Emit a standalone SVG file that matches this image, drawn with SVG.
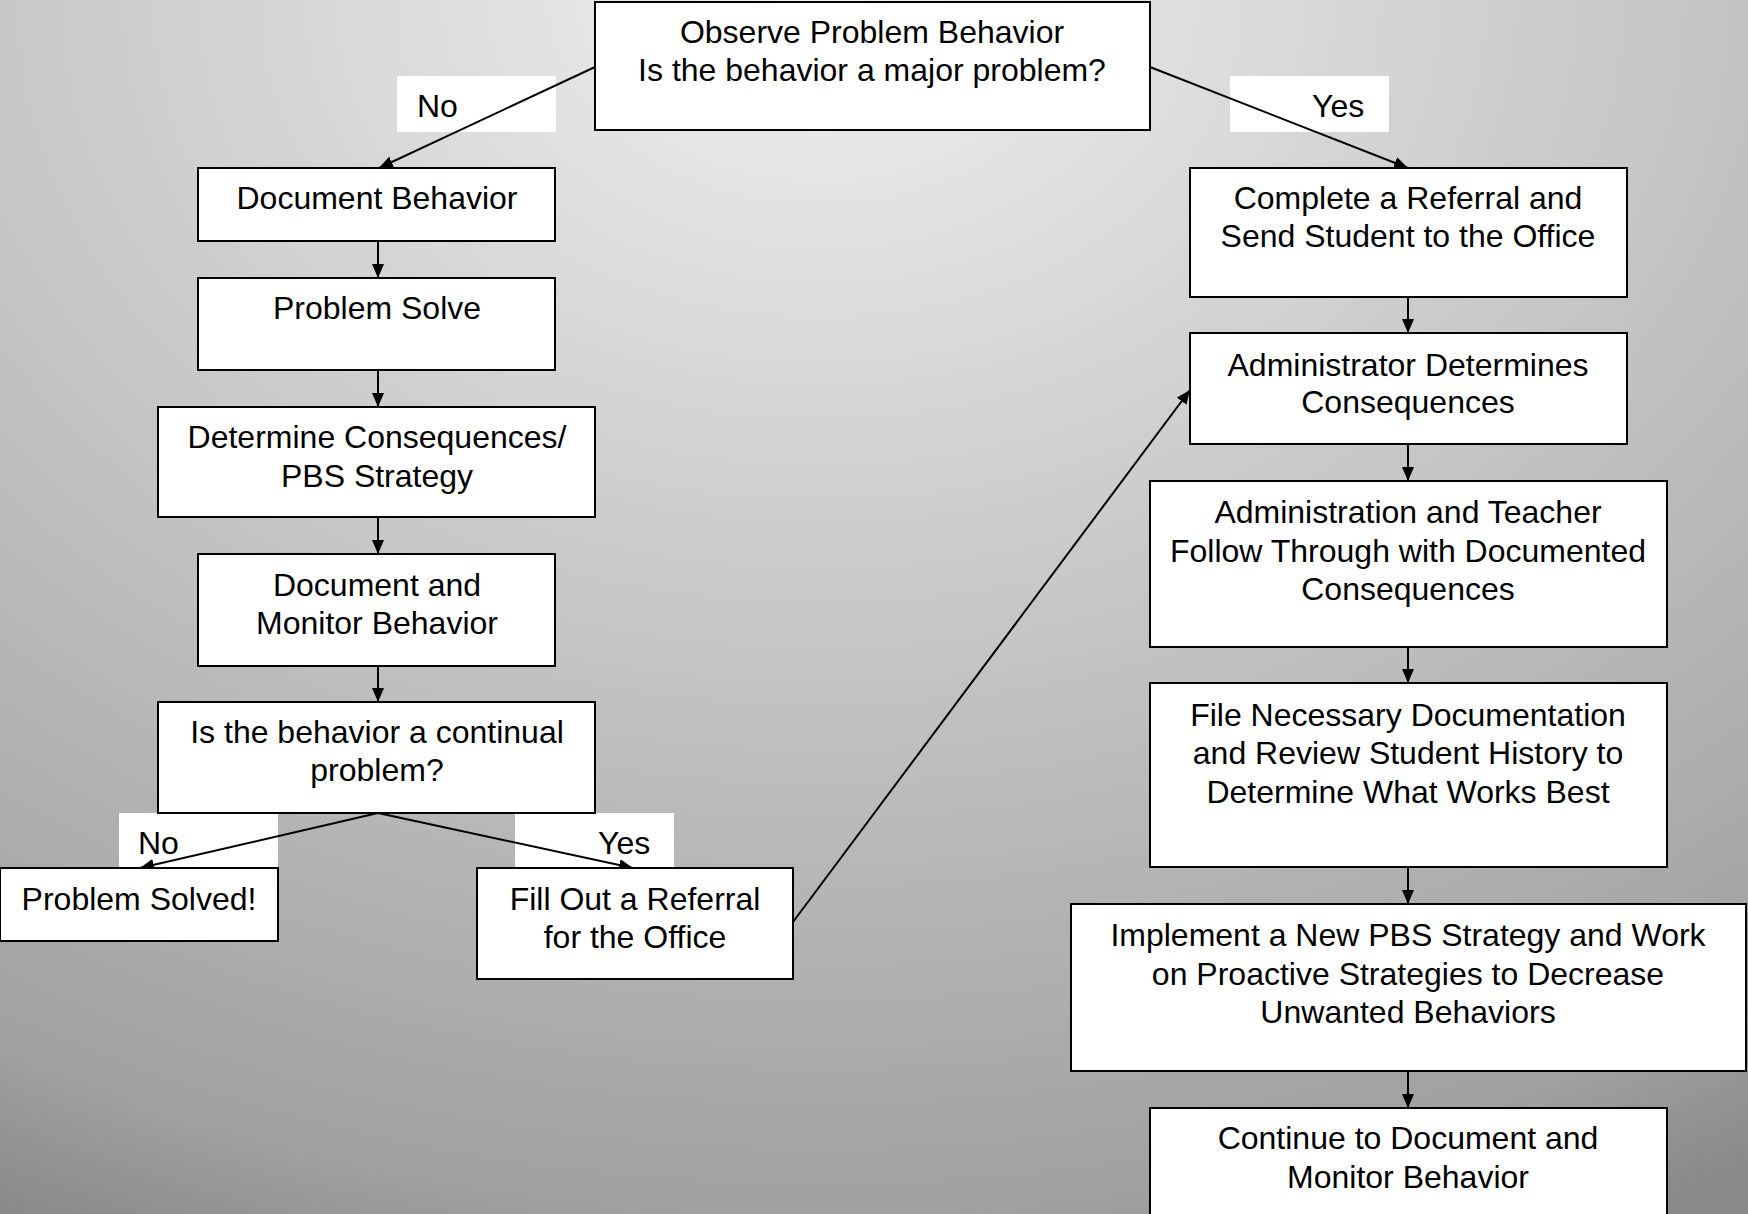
<svg xmlns="http://www.w3.org/2000/svg" width="1748" height="1214" viewBox="0 0 1748 1214">
  <defs>
    <radialGradient id="bg" gradientUnits="userSpaceOnUse" cx="820" cy="0" r="1800" gradientTransform="translate(820 0) scale(1 0.75) translate(-820 0)">
      <stop offset="0" stop-color="#f0f0f0"/>
      <stop offset="0.45" stop-color="#c8c8c8"/>
      <stop offset="0.9" stop-color="#a0a0a0"/>
      <stop offset="1" stop-color="#8a8a8a"/>
    </radialGradient>
    <marker id="arrow" markerUnits="userSpaceOnUse" markerWidth="14" markerHeight="12" refX="14" refY="6" orient="auto">
      <path d="M0,0 L14,6 L0,12 z" fill="#000"/>
    </marker>
  </defs>
  <style>
    .box { fill: #ffffff; stroke: #000000; stroke-width: 2; }
    .lbl { fill: #ffffff; stroke: none; }
    .t { font-family: "Liberation Sans", Arial, sans-serif; font-size: 32px; fill: #000000; text-anchor: middle; }
    .tl { font-family: "Liberation Sans", Arial, sans-serif; font-size: 32px; fill: #000000; text-anchor: start; }
    .edge { stroke: #000000; stroke-width: 2; fill: none; marker-end: url(#arrow); }
  </style>

  <rect x="0" y="0" width="1748" height="1214" fill="url(#bg)"/>

  <!-- branch label backgrounds -->
  <g id="labels">
    <rect class="lbl" x="397" y="76" width="159" height="56"/>
    <text class="tl" x="417" y="117">No</text>
    <rect class="lbl" x="1230" y="76" width="159" height="56"/>
    <text class="tl" x="1312" y="117">Yes</text>
    <rect class="lbl" x="119" y="813" width="159" height="55"/>
    <text class="tl" x="138" y="854">No</text>
    <rect class="lbl" x="515" y="813" width="159" height="55"/>
    <text class="tl" x="598" y="854">Yes</text>
  </g>

  <!-- connectors -->
  <g id="connectors">
    <line class="edge" x1="595" y1="67" x2="379" y2="168"/>
    <line class="edge" x1="1150" y1="67" x2="1408" y2="168"/>
    <line class="edge" x1="378" y1="241" x2="378" y2="278"/>
    <line class="edge" x1="378" y1="370" x2="378" y2="407"/>
    <line class="edge" x1="378" y1="517" x2="378" y2="554"/>
    <line class="edge" x1="378" y1="666" x2="378" y2="702"/>
    <line class="edge" x1="378" y1="813" x2="140" y2="868"/>
    <line class="edge" x1="378" y1="813" x2="633" y2="868"/>
    <line class="edge" x1="793" y1="922" x2="1190" y2="390"/>
    <line class="edge" x1="1408" y1="297" x2="1408" y2="333"/>
    <line class="edge" x1="1408" y1="444" x2="1408" y2="481"/>
    <line class="edge" x1="1408" y1="647" x2="1408" y2="683"/>
    <line class="edge" x1="1408" y1="867" x2="1408" y2="904"/>
    <line class="edge" x1="1408" y1="1071" x2="1408" y2="1108"/>
  </g>

  <!-- nodes -->
  <g id="observe">
    <rect class="box" x="595" y="2" width="555" height="128"/>
    <text class="t" x="872" y="43">Observe Problem Behavior</text>
    <text class="t" x="872" y="81">Is the behavior a major problem?</text>
  </g>
  <g id="document-behavior">
    <rect class="box" x="198" y="168" width="357" height="73"/>
    <text class="t" x="377" y="209">Document Behavior</text>
  </g>
  <g id="problem-solve">
    <rect class="box" x="198" y="278" width="357" height="92"/>
    <text class="t" x="377" y="319">Problem Solve</text>
  </g>
  <g id="determine-consequences">
    <rect class="box" x="158" y="407" width="437" height="110"/>
    <text class="t" x="377" y="448">Determine Consequences/</text>
    <text class="t" x="377" y="487">PBS Strategy</text>
  </g>
  <g id="document-monitor">
    <rect class="box" x="198" y="554" width="357" height="112"/>
    <text class="t" x="377" y="596">Document and</text>
    <text class="t" x="377" y="634">Monitor Behavior</text>
  </g>
  <g id="continual-problem">
    <rect class="box" x="158" y="702" width="437" height="111"/>
    <text class="t" x="377" y="743">Is the behavior a continual</text>
    <text class="t" x="377" y="781">problem?</text>
  </g>
  <g id="problem-solved">
    <rect class="box" x="0" y="868" width="278" height="73"/>
    <text class="t" x="139" y="910">Problem Solved!</text>
  </g>
  <g id="fill-referral">
    <rect class="box" x="477" y="868" width="316" height="111"/>
    <text class="t" x="635" y="910">Fill Out a Referral</text>
    <text class="t" x="635" y="948">for the Office</text>
  </g>
  <g id="complete-referral">
    <rect class="box" x="1190" y="168" width="437" height="129"/>
    <text class="t" x="1408" y="209">Complete a Referral and</text>
    <text class="t" x="1408" y="247">Send Student to the Office</text>
  </g>
  <g id="administrator-determines">
    <rect class="box" x="1190" y="333" width="437" height="111"/>
    <text class="t" x="1408" y="376">Administrator Determines</text>
    <text class="t" x="1408" y="413">Consequences</text>
  </g>
  <g id="follow-through">
    <rect class="box" x="1150" y="481" width="517" height="166"/>
    <text class="t" x="1408" y="523">Administration and Teacher</text>
    <text class="t" x="1408" y="562">Follow Through with Documented</text>
    <text class="t" x="1408" y="600">Consequences</text>
  </g>
  <g id="file-documentation">
    <rect class="box" x="1150" y="683" width="517" height="184"/>
    <text class="t" x="1408" y="726">File Necessary Documentation</text>
    <text class="t" x="1408" y="764">and Review Student History to</text>
    <text class="t" x="1408" y="803">Determine What Works Best</text>
  </g>
  <g id="implement-strategy">
    <rect class="box" x="1071" y="904" width="675" height="167"/>
    <text class="t" x="1408" y="946">Implement a New PBS Strategy and Work</text>
    <text class="t" x="1408" y="985">on Proactive Strategies to Decrease</text>
    <text class="t" x="1408" y="1023">Unwanted Behaviors</text>
  </g>
  <g id="continue-monitor">
    <rect class="box" x="1150" y="1108" width="517" height="120"/>
    <text class="t" x="1408" y="1149">Continue to Document and</text>
    <text class="t" x="1408" y="1188">Monitor Behavior</text>
  </g>
</svg>
